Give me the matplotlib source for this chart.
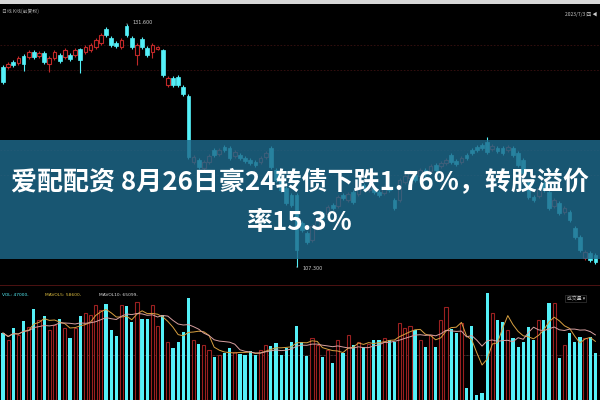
import matplotlib
matplotlib.use("Agg")
import matplotlib.pyplot as plt
from matplotlib.patches import Rectangle
import numpy as np
import pandas as pd

# daily candles (price), red = up, cyan = down
opens = [127.3, 127.3, 127.8, 127.7, 128.4, 128.3, 128.8, 128.4, 128.7, 127.6,
         128.2, 128.5, 128.3, 128.5, 128.5, 129.1, 128.8, 129.0, 129.3, 129.7,
         131.1, 130.2, 129.7, 129.3, 131.4, 130.2, 128.5, 130.1, 129.2, 128.8,
         129.1, 129.0, 125.5, 126.2, 126.3, 125.3, 124.4, 117.8, 118.0, 117.2,
         117.8, 119.0, 118.6, 119.3, 119.2, 118.4, 118.5, 118.2, 118.0, 117.8,
         117.8, 118.3, 119.2, 117.0, 116.0, 115.2, 114.5, 114.5, 111.7, 110.7,
         110.0, 111.2, 112.7, 112.6, 113.5, 113.4, 114.5, 114.0, 114.8, 114.6,
         115.5, 115.0, 115.2, 114.8, 114.7, 115.3, 114.0, 114.0, 115.8, 116.2,
         116.5, 116.4, 117.0, 116.9, 117.5, 117.4, 117.7, 118.5, 117.9, 117.8,
         118.5, 119.0, 119.3, 119.5, 119.8, 119.1, 119.2, 119.2, 119.0, 119.2,
         118.7, 118.0, 115.7, 114.3, 114.4, 115.7, 114.8, 113.4, 113.7, 112.8,
         112.8, 111.2, 110.3, 108.2, 108.7, 108.5]
closes = [125.8, 127.6, 127.5, 128.2, 127.6, 128.8, 128.3, 128.7, 127.8, 128.2,
          128.8, 127.9, 129.0, 128.1, 129.0, 128.0, 129.3, 129.5, 130.0, 130.5,
          130.5, 129.5, 129.4, 130.0, 130.5, 129.3, 129.5, 129.3, 128.5, 129.5,
          129.3, 126.5, 126.2, 125.5, 125.5, 124.6, 118.3, 118.3, 117.3, 117.8,
          118.4, 118.5, 119.0, 119.0, 118.2, 118.8, 118.2, 117.9, 117.7, 117.5,
          118.2, 118.7, 117.3, 116.0, 115.0, 113.7, 113.5, 109.0, 111.0, 109.8,
          111.4, 112.2, 112.2, 113.3, 113.2, 114.3, 114.2, 114.6, 113.8, 115.3,
          115.2, 115.4, 114.8, 114.5, 115.3, 115.0, 113.2, 116.0, 116.4, 116.8,
          116.0, 117.0, 116.6, 117.4, 117.0, 117.7, 118.0, 117.8, 117.6, 118.2,
          118.2, 118.7, 119.0, 119.2, 118.8, 119.4, 118.9, 118.7, 119.3, 118.5,
          117.5, 116.7, 114.3, 114.0, 115.2, 115.0, 113.2, 114.0, 112.7, 113.2,
          112.0, 110.3, 109.0, 108.8, 108.0, 107.8]
highs = [127.5, 127.8, 128.0, 128.4, 128.6, 129.0, 129.0, 128.9, 128.9, 128.4,
         129.0, 128.7, 129.2, 128.7, 129.2, 129.2, 129.5, 129.7, 130.2, 130.7,
         131.3, 130.4, 129.9, 130.2, 131.6, 130.4, 129.7, 130.3, 129.4, 129.7,
         129.4, 129.1, 126.4, 126.4, 126.5, 125.5, 124.6, 118.5, 118.2, 118.0,
         118.6, 119.2, 119.2, 119.5, 119.4, 119.0, 118.7, 118.4, 118.2, 118.0,
         118.4, 118.9, 119.4, 117.2, 116.2, 115.4, 114.7, 114.7, 111.9, 110.9,
         111.6, 112.4, 112.9, 113.5, 113.7, 114.5, 114.7, 114.8, 115.0, 115.5,
         115.7, 115.6, 115.4, 115.0, 115.5, 115.5, 114.2, 116.2, 116.6, 117.0,
         116.7, 117.2, 117.2, 117.6, 117.7, 117.9, 118.2, 118.7, 118.1, 118.4,
         118.7, 119.2, 119.5, 119.7, 120.3, 119.6, 119.4, 119.4, 119.5, 119.4,
         118.9, 118.2, 115.9, 114.5, 115.4, 115.9, 115.0, 114.2, 113.9, 113.4,
         113.0, 111.4, 110.5, 109.0, 108.9, 108.7]
lows = [125.6, 127.1, 127.3, 127.5, 126.9, 128.1, 128.1, 128.2, 127.6, 126.8,
        128.0, 127.7, 128.1, 127.9, 128.3, 126.7, 128.6, 128.8, 129.1, 129.5,
        130.3, 129.3, 129.2, 129.1, 130.3, 129.1, 127.5, 129.1, 128.3, 128.2,
        129.0, 126.3, 125.3, 125.3, 125.3, 124.4, 118.1, 117.6, 117.1, 117.0,
        117.6, 118.3, 118.4, 118.8, 118.0, 118.2, 118.0, 117.7, 117.5, 117.3,
        117.6, 118.1, 117.1, 115.8, 114.8, 113.5, 113.3, 107.3, 110.8, 109.6,
        109.8, 111.0, 112.0, 112.4, 113.0, 113.2, 114.0, 113.8, 113.6, 114.4,
        115.0, 114.8, 114.6, 114.3, 114.5, 114.8, 113.0, 113.8, 115.6, 116.0,
        115.8, 116.2, 116.4, 116.7, 116.8, 117.2, 117.5, 117.6, 117.4, 117.6,
        118.0, 118.5, 118.8, 119.0, 118.6, 118.9, 118.7, 118.5, 118.8, 118.3,
        117.3, 116.5, 114.1, 113.8, 114.2, 114.8, 113.0, 113.2, 112.5, 112.6,
        111.8, 110.1, 108.8, 108.0, 107.8, 107.6]
volumes = [67, 60, 72, 65, 79, 73, 91, 80, 84, 70,
           75, 81, 72, 62, 72, 84, 87, 85, 95, 90,
           96, 70, 64, 95, 94, 78, 98, 81, 81, 95,
           74, 85, 58, 52, 58, 68, 102, 60, 56, 55,
           50, 43, 45, 47, 52, 48, 46, 45, 49, 45,
           50, 55, 54, 57, 45, 52, 58, 74, 58, 44,
           62, 55, 43, 50, 37, 60, 47, 65, 55, 58,
           53, 56, 60, 60, 62, 60, 58, 77, 72, 74,
           70, 60, 53, 65, 53, 80, 93, 71, 67, 77,
           12, 74, 5, 7, 107, 87, 80, 78, 70, 62,
           53, 58, 73, 60, 80, 80, 97, 97, 42, 55,
           67, 58, 63, 62, 63, 47]

title_1 = "爱配配资 8月26日豪24转债下跌1.76%，转股溢价"
title_2 = "率15.3%"

UP = "#c02828"
DOWN = "#54f0f8"

o = np.array(opens)
c = np.array(closes)
h = np.array(highs)
l = np.array(lows)
v = np.array(volumes)
x = np.arange(len(o))
up = c >= o

fig = plt.figure(figsize=(6, 4), dpi=100, facecolor="black")

# price panel
ax = fig.add_axes([0, 0.32, 1, 0.655], facecolor="black")
for y in [129.5, 127.0, 119.0, 116.5]:
    ax.axhline(y, color="#3a1010", lw=0.6, ls=(0, (2, 2)), zorder=0)
ax.vlines(x[~up], l[~up], h[~up], color=DOWN, lw=0.8, zorder=1)
ax.vlines(x[up], l[up], h[up], color=UP, lw=0.8, zorder=1)
ax.bar(x[~up], np.maximum(o[~up] - c[~up], 0.06), bottom=c[~up], width=0.72,
       color=DOWN, edgecolor=DOWN, lw=0.5, zorder=2)
ax.bar(x[up], np.maximum(c[up] - o[up], 0.06), bottom=o[up], width=0.72,
       facecolor="black", edgecolor=UP, lw=0.8, zorder=2)
ih = int(np.argmax(h))
il = int(np.argmin(l))
ax.annotate(f"{h[ih]:.3f}", (x[ih], h[ih]), xytext=(x[ih] + 1.2, h[ih] + 0.1),
            color="#cccccc", fontsize=3.5, va="center",
            arrowprops=dict(arrowstyle="-", color="#cccccc", lw=0.5))
ax.annotate(f"{l[il]:.3f}", (x[il], l[il]), xytext=(x[il] + 1.2, l[il] - 0.15),
            color="#cccccc", fontsize=3.5, va="center",
            arrowprops=dict(arrowstyle="-", color="#cccccc", lw=0.5))
ax.set_xlim(-0.58, 115.9)
ax.set_ylim(106.8, 133.0)
ax.axis("off")

# volume panel
axv = fig.add_axes([0, 0, 1, 0.2875], facecolor="black")
axv.bar(x[~up], v[~up], width=0.62, color=DOWN, zorder=2)
axv.bar(x[up], v[up], width=0.62, facecolor="black", edgecolor="#9a2020", lw=0.8, zorder=2)
ma5 = pd.Series(v).rolling(5, min_periods=1).mean()
ma10 = pd.Series(v).rolling(10, min_periods=1).mean()
axv.plot(x, ma5, color="#d8a040", lw=0.7, zorder=3)
axv.plot(x, ma10, color="#d8a0a0", lw=0.7, zorder=3)
axv.axhline(45, color="#806060", lw=0.5, ls=(0, (1, 1)), zorder=1)
axv.axhline(115, color="#5a1515", lw=1.2)
axv.set_xlim(-0.58, 115.9)
axv.set_ylim(0, 115)
axv.axis("off")
axv.text(0.003, 0.9, f"VOL: {v[-1]*1000},", transform=axv.transAxes, color=DOWN, fontsize=3.2)
axv.text(0.075, 0.9, f"MAVOL5: {int(ma5.iloc[-1]*1000)},", transform=axv.transAxes, color="#e0c040", fontsize=3.2)
axv.text(0.165, 0.9, f"MAVOL10: {int(ma10.iloc[-1]*1000)},", transform=axv.transAxes, color="#dddddd", fontsize=3.2)
axv.text(0.975, 0.87, "成交量 ▾", transform=axv.transAxes, color="#bbbbbb", fontsize=3.5,
         ha="right", family=["Noto Sans CJK SC", "DejaVu Sans"],
         bbox=dict(facecolor="black", edgecolor="#444444", lw=0.4, pad=1))

# header strip
fig.add_artist(Rectangle((0, 0.99), 1, 0.01, transform=fig.transFigure,
                         facecolor="#d8d8d8", edgecolor="none"))
fig.text(0.004, 0.972, "日线 K线(前复权)", color="#aaaaaa", fontsize=3.5,
         family=["Noto Sans CJK SC", "DejaVu Sans"], va="center")
fig.text(0.995, 0.965, "2023/7/3 四 ◀", color="#cccccc", fontsize=3.5, ha="right",
         family=["Noto Sans CJK SC", "DejaVu Sans"], va="center")

# title banner
fig.add_artist(Rectangle((0, 0.353), 1, 0.297, transform=fig.transFigure,
                         facecolor="#1e6a8c", alpha=0.82, edgecolor="none", zorder=5))
fig.text(0.5, 1 - 183 / 400, title_1, ha="center", va="center", color="white",
         fontsize=18.7, weight="bold", family=["Noto Sans CJK SC", "DejaVu Sans"], zorder=6)
fig.text(0.5, 1 - 222 / 400, title_2, ha="center", va="center", color="white",
         fontsize=18.7, weight="bold", family=["Noto Sans CJK SC", "DejaVu Sans"], zorder=6)

fig.savefig("out.png", dpi=100, facecolor="black")
